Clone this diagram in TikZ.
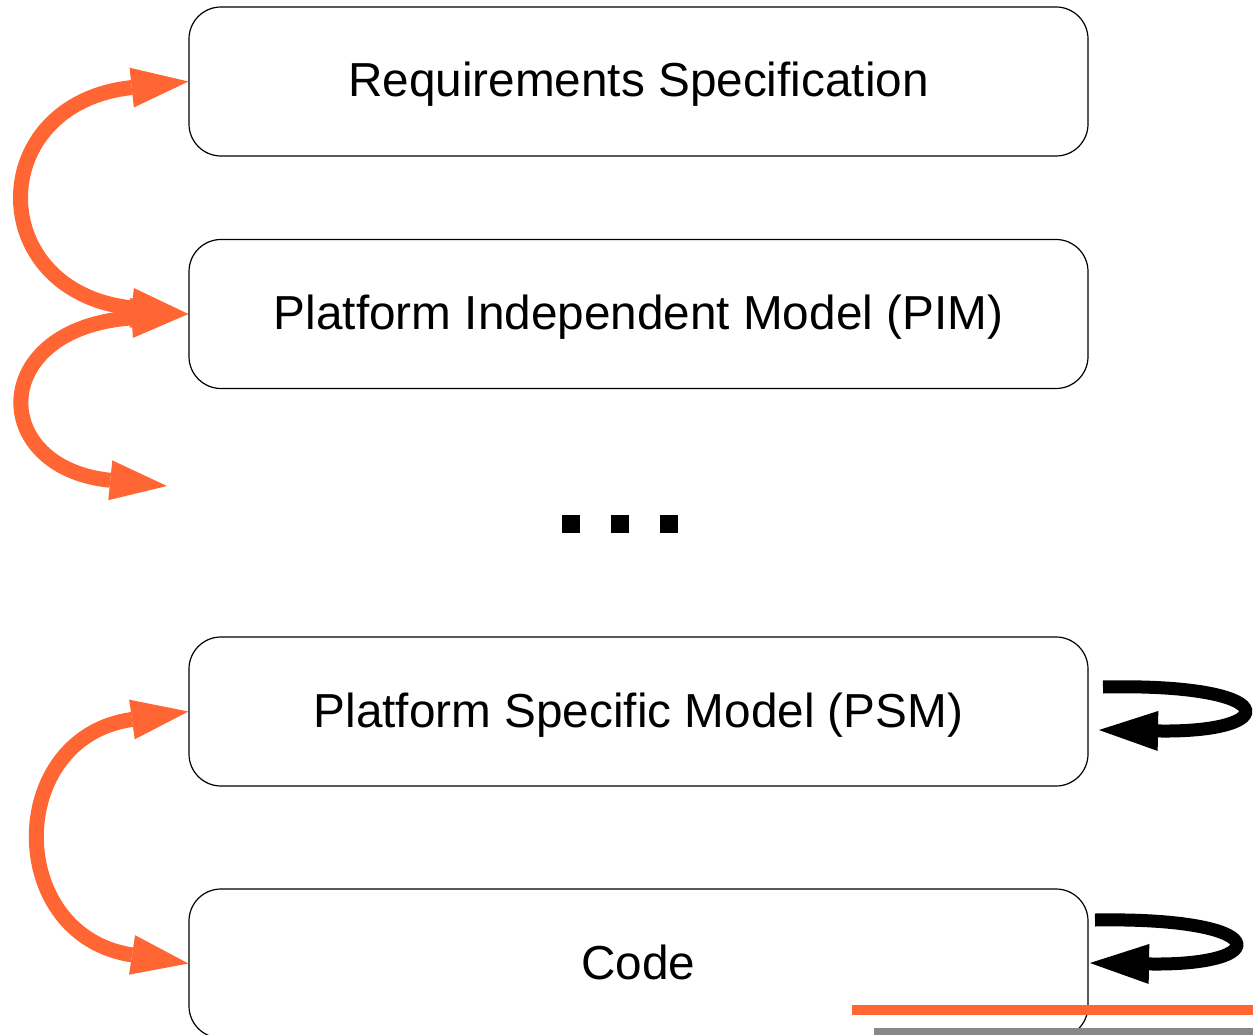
\documentclass[tikz,border=0pt]{standalone}
\usepackage{fontspec}
\setmainfont{Liberation Sans}
\usetikzlibrary{arrows.meta}
\definecolor{flow}{HTML}{FF6633}
\definecolor{rulegray}{HTML}{888888}
\tikzset{
  stage/.style={draw=black, line width=1.2pt, rectangle, rounded corners=32pt,
    minimum width=899pt, minimum height=149pt, inner sep=0pt,
    text height=31pt, text depth=0pt,
    font=\fontsize{47.7}{57}\selectfont},
  mapping/.style={draw=flow, line width=15pt,
    {Triangle[length=57pt,width=40pt,line width=0pt]}-{Triangle[length=57pt,width=40pt,line width=0pt]}},
  refine/.style={draw=black, line width=13pt,
    -{Triangle[length=59pt,width=40pt,line width=0pt]}},
  dot/.style={fill=black, minimum size=18pt, inner sep=0pt, rectangle}
}
\begin{document}
\begin{tikzpicture}[x=1pt, y=-1pt]
  \clip (0,0) rectangle (1253,1035);
  \fill[white] (0,0) rectangle (1253,1035);

  % model levels
  \node[stage] (req)  at (638.5, 81.5)  {Requirements Specification};
  \node[stage] (pim)  at (638.5, 314)   {Platform Independent Model (PIM)};
  \node[stage] (psm)  at (638.5, 711.5) {Platform Specific Model (PSM)};
  \node[stage] (code) at (638.5, 963.5) {Code};

  % ellipsis between the levels
  \node[dot] (d1) at (571, 524) {};
  \node[dot] (d2) at (620, 524) {};
  \node[dot] (d3) at (669, 524) {};

  % transformations between levels
  \coordinate (lowend) at (167, 486);
  \draw[mapping] (req.west) .. controls +(-205,22) and +(-205,-22) .. (pim.west);
  \draw[mapping] (pim.west) .. controls +(-201,14) and +(-179,-18) .. (lowend);
  \draw[mapping] (psm.west) .. controls +(-184,26) and +(-184,-28) .. (code.west);

  % refinements within a level
  \coordinate (psmA) at (1103, 687);
  \coordinate (psmB) at (1099, 730);
  \coordinate (codeA) at (1095, 920);
  \coordinate (codeB) at (1090, 963);
  \draw[refine] (psmA) .. controls +(180,-4) and +(184,3) .. (psmB);
  \draw[refine] (codeA) .. controls +(179,-3) and +(184,3) .. (codeB);

  % rules at the lower edge
  \coordinate (r1a) at (852, 1010);
  \coordinate (r1b) at (1253, 1010);
  \coordinate (r2a) at (874, 1033);
  \coordinate (r2b) at (1253, 1033);
  \draw[flow, line width=10pt] (r1a) -- (r1b);
  \draw[rulegray, line width=10pt] (r2a) -- (r2b);
\end{tikzpicture}
\end{document}
